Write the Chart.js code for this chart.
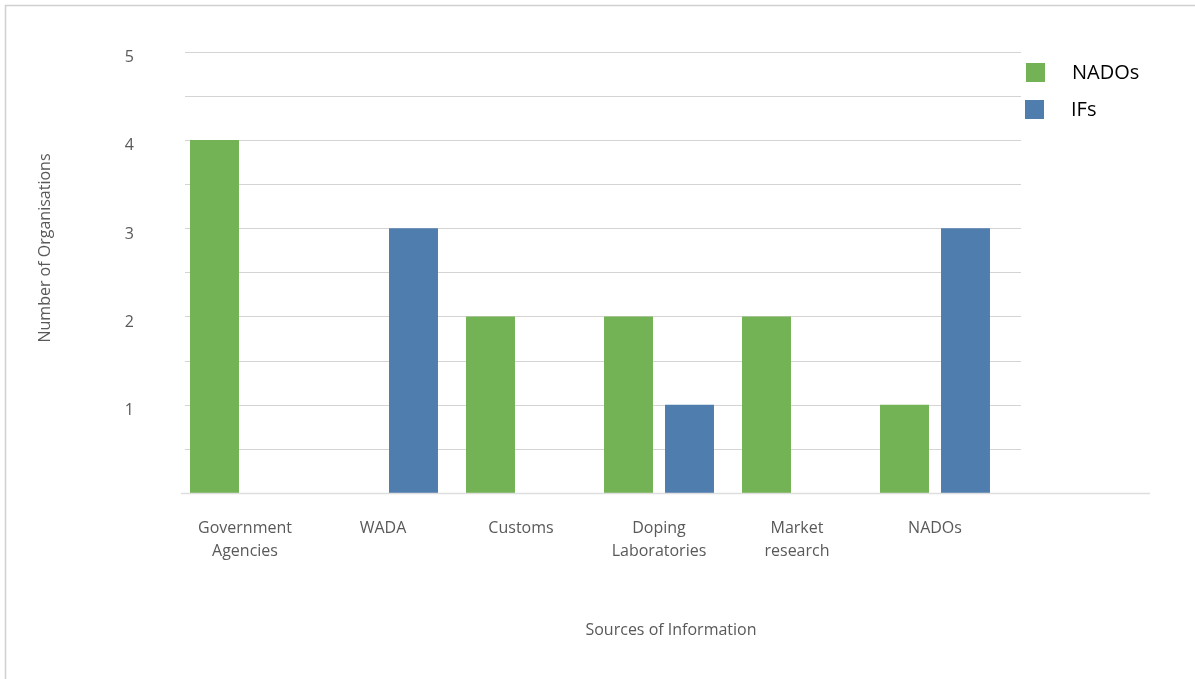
<!DOCTYPE html>
<html>
<head>
<meta charset="utf-8">
<script src="https://cdn.jsdelivr.net/npm/chart.js@4"></script>
<style>
  html, body { margin: 0; padding: 0; background: #fff; }
  canvas { display: block; }
</style>
</head>
<body>
<canvas id="sourcesChart" width="1195" height="679"></canvas>
<script>
// Categories and values
const categories = [
    ['Government', 'Agencies'],
    'WADA',
    'Customs',
    ['Doping', 'Laboratories'],
    ['Market', 'research'],
    'NADOs'
];
const nadosValues = [4, 0, 2, 2, 2, 1];
const ifsValues = [0, 3, 0, 1, 0, 3];
const yTickLabels = [1, 2, 3, 4, 5];

const GREEN = '#74B355';
const BLUE = '#4F7EAE';
const TEXT_GRAY = '#595959';
const GRID = '#d4d4d4';
const FONT = '"Open Sans", "Noto Sans", sans-serif';

// Frame, grid lines, axis line, axis titles and legend
const decorations = {
    id: 'decorations',
    beforeDraw(chart) {
        const c = chart.ctx;
        c.save();
        c.strokeStyle = '#d0d0d0';
        c.lineWidth = 1.5;
        c.beginPath();
        c.moveTo(5.5, chart.height);
        c.lineTo(5.5, 5.5);
        c.lineTo(chart.width, 5.5);
        c.stroke();
        c.restore();
    },
    beforeDatasetsDraw(chart) {
        const c = chart.ctx;
        const y = chart.scales.y;
        c.save();
        c.strokeStyle = GRID;
        c.lineWidth = 1;
        y.ticks.forEach(t => {
            if (t.value <= 0) return;
            const py = Math.round(y.getPixelForValue(t.value)) + 0.5;
            c.beginPath();
            c.moveTo(185, py);
            c.lineTo(1021, py);
            c.stroke();
        });
        c.restore();
    },
    afterDraw(chart) {
        const c = chart.ctx;
        const y = chart.scales.y;
        const base = Math.round(y.getPixelForValue(0)) + 0.5;
        c.save();
        c.strokeStyle = '#dedede';
        c.lineWidth = 1.5;
        c.beginPath();
        c.moveTo(181, base);
        c.lineTo(1150, base);
        c.stroke();

        // axis titles
        c.fillStyle = TEXT_GRAY;
        c.font = '16px ' + FONT;
        c.textAlign = 'center';
        c.textBaseline = 'middle';
        c.fillText('Sources of Information', 671, 630);
        c.translate(45, 248);
        c.rotate(-Math.PI / 2);
        c.fillText('Number of Organisations', 0, 0);
        c.restore();

        // legend
        c.save();
        c.font = '20px ' + FONT;
        c.textAlign = 'left';
        c.textBaseline = 'middle';
        const rows = [{ y: 63, x: 1026, tx: 1072 }, { y: 100, x: 1025, tx: 1071 }];
        chart.data.datasets.forEach((ds, i) => {
            const r = rows[i];
            c.fillStyle = ds.backgroundColor;
            c.fillRect(r.x, r.y, 19, 19);
            c.fillStyle = '#000';
            c.fillText(ds.label, r.tx, r.y + 10);
        });
        c.restore();
    }
};

const ctx = document.getElementById('sourcesChart').getContext('2d');
const sourcesChart = new Chart(ctx, {
    type: 'bar',
    data: {
        labels: categories,
        datasets: [
            {
                label: 'NADOs',
                data: nadosValues,
                backgroundColor: GREEN,
                borderWidth: 0,
                categoryPercentage: 0.884,
                barPercentage: 0.803
            },
            {
                label: 'IFs',
                data: ifsValues,
                backgroundColor: BLUE,
                borderWidth: 0,
                categoryPercentage: 0.884,
                barPercentage: 0.803
            }
        ]
    },
    options: {
        responsive: false,
        animation: false,
        devicePixelRatio: 1,
        layout: { padding: { left: 0, right: 191, top: 50, bottom: 0 } },
        plugins: {
            legend: { display: false },
            tooltip: { enabled: false }
        },
        scales: {
            x: {
                grid: { display: false, drawTicks: false, tickLength: 0 },
                border: { display: false },
                ticks: {
                    color: TEXT_GRAY,
                    font: { family: FONT, size: 16, lineHeight: 1.45 },
                    padding: 24,
                    maxRotation: 0,
                    autoSkip: false
                },
                afterFit(scale) { scale.height = 186; }
            },
            y: {
                min: 0,
                max: 5,
                grid: { display: false, drawTicks: false, tickLength: 0 },
                border: { display: false },
                ticks: {
                    stepSize: 0.5,
                    color: TEXT_GRAY,
                    font: { family: FONT, size: 16 },
                    padding: 42,
                    labelOffset: 6,
                    callback: v => yTickLabels.includes(v) ? String(v) : ''
                },
                afterFit(scale) { scale.width = 176; }
            }
        }
    },
    plugins: [decorations]
});
</script>
</body>
</html>
